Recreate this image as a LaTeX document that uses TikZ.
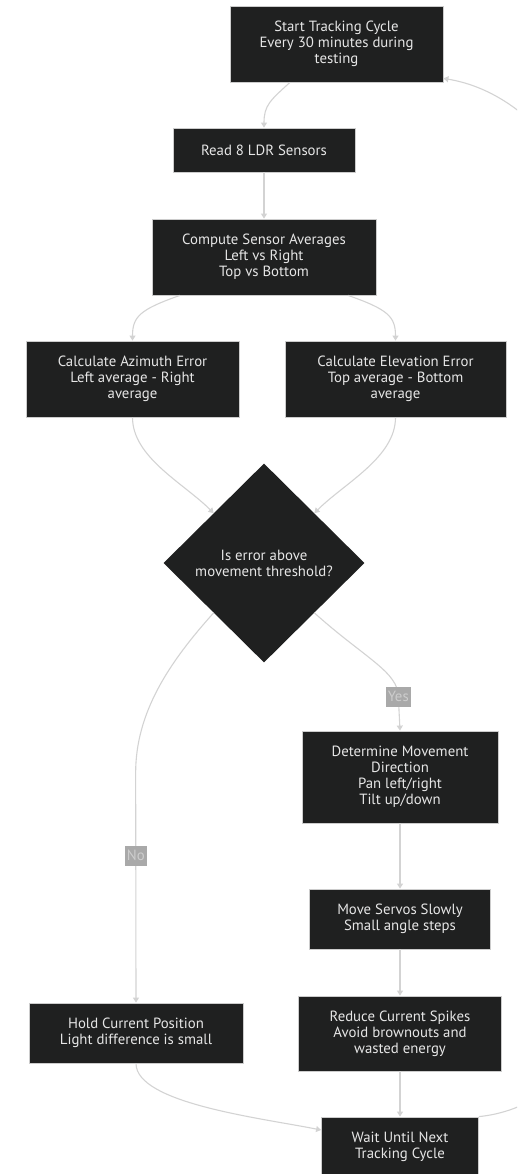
\documentclass[tikz,border=0pt]{standalone}
\usepackage{fontspec}
\setmainfont{PT Sans}
\usetikzlibrary{shapes.geometric,arrows.meta}
\definecolor{boxfill}{HTML}{1F2020}
\definecolor{boxline}{HTML}{CCCCCC}
\definecolor{boxtext}{HTML}{E6E6E6}
\definecolor{edgecol}{HTML}{D3D3D3}
\definecolor{lblfill}{HTML}{A9A9A9}
\definecolor{lbltext}{HTML}{CDCDCD}
\begin{document}
\begin{tikzpicture}[
  x = 1pt, y = -1pt,
  every node/.style = {font = \fontsize{14.8}{16}\selectfont, align = center, text = boxtext},
  box/.style = {draw = boxline, fill = boxfill, line width = 0.8pt, inner sep = 0pt},
  decision/.style = {diamond, fill = boxfill, inner sep = 0pt, minimum width = 201pt, minimum height = 199pt},
  edge/.style = {draw = edgecol, line width = 1.1pt, -{Triangle[length = 5pt, width = 6pt]}},
  lbl/.style = {fill = lblfill, text = lbltext, inner sep = 2pt, minimum height = 20pt},
  ]
  \useasboundingbox (0,0) rectangle (517,1174);
  \clip (0,0) rectangle (517,1174);
  \node[box, minimum width = 213pt, minimum height = 76pt] (start) at (336.5,44)
    {Start Tracking Cycle\\Every 30 minutes during\\testing};
  \node[box, minimum width = 182pt, minimum height = 44pt] (read) at (264,150)
    {Read 8 LDR Sensors};
  \node[box, minimum width = 224pt, minimum height = 76pt] (comp) at (264,257)
    {Compute Sensor Averages\\Left vs Right\\Top vs Bottom};
  \node[box, minimum width = 213pt, minimum height = 76pt] (azim) at (132.5,379)
    {Calculate Azimuth Error\\Left average - Right\\average};
  \node[box, minimum width = 221pt, minimum height = 76pt] (elev) at (395.5,379)
    {Calculate Elevation Error\\Top average - Bottom\\average};
  \node[decision] (dia) at (264,563) {Is error above\\movement threshold?};
  \node[box, minimum width = 196pt, minimum height = 92pt] (det) at (400,777)
    {Determine Movement\\Direction\\Pan left/right\\Tilt up/down};
  \node[box, minimum width = 181pt, minimum height = 60pt] (move) at (400,919)
    {Move Servos Slowly\\Small angle steps};
  \node[box, minimum width = 203pt, minimum height = 75pt] (red) at (400,1033.5)
    {Reduce Current Spikes\\Avoid brownouts and\\wasted energy};
  \node[box, minimum width = 214pt, minimum height = 60pt] (hold) at (136,1033)
    {Hold Current Position\\Light difference is small};
  \node[box, minimum width = 157pt, minimum height = 60pt] (wait) at (400,1147)
    {Wait Until Next\\Tracking Cycle};

  \draw[edge] ([xshift = -46.5pt]start.south) .. controls +(-20,18) and +(0,-22) .. (read.north);
  \draw[edge] (read) -- (comp);
  \draw[edge] ([xshift = -84pt]comp.south) .. controls +(-40,14) and +(0,-24) .. (azim.north);
  \draw[edge] ([xshift = 84pt]comp.south) .. controls +(40,14) and +(0,-24) .. (elev.north);
  \draw[edge] (azim.south) .. controls +(0,40) and +(-30,-30) .. (dia.north west);
  \draw[edge] (elev.south) .. controls +(0,40) and +(30,-30) .. (dia.north east);
  % no / yes branches
  \draw[edge] (dia.south west) .. controls +(-45,50) and +(0,-60) .. ++(-78,160)
    -- node[lbl, pos = 0.36] {No} (hold.north);
  \draw[edge] (dia.south east) .. controls +(50,45) and +(0,-25) .. ++(84,84)
    node[lbl] {Yes} -- (det.north);
  \draw[edge] (det) -- (move);
  \draw[edge] (move) -- (red);
  \draw[edge] (red) -- (wait);
  \draw[edge] (hold.south) .. controls +(0,40) and +(-60,-12) .. ([yshift = 17pt]wait.west);
  % back to the start
  \draw[edge] (wait.north east) .. controls +(300,-30) and +(300,50) .. ([yshift = 4pt]start.south east);
\end{tikzpicture}
\end{document}
